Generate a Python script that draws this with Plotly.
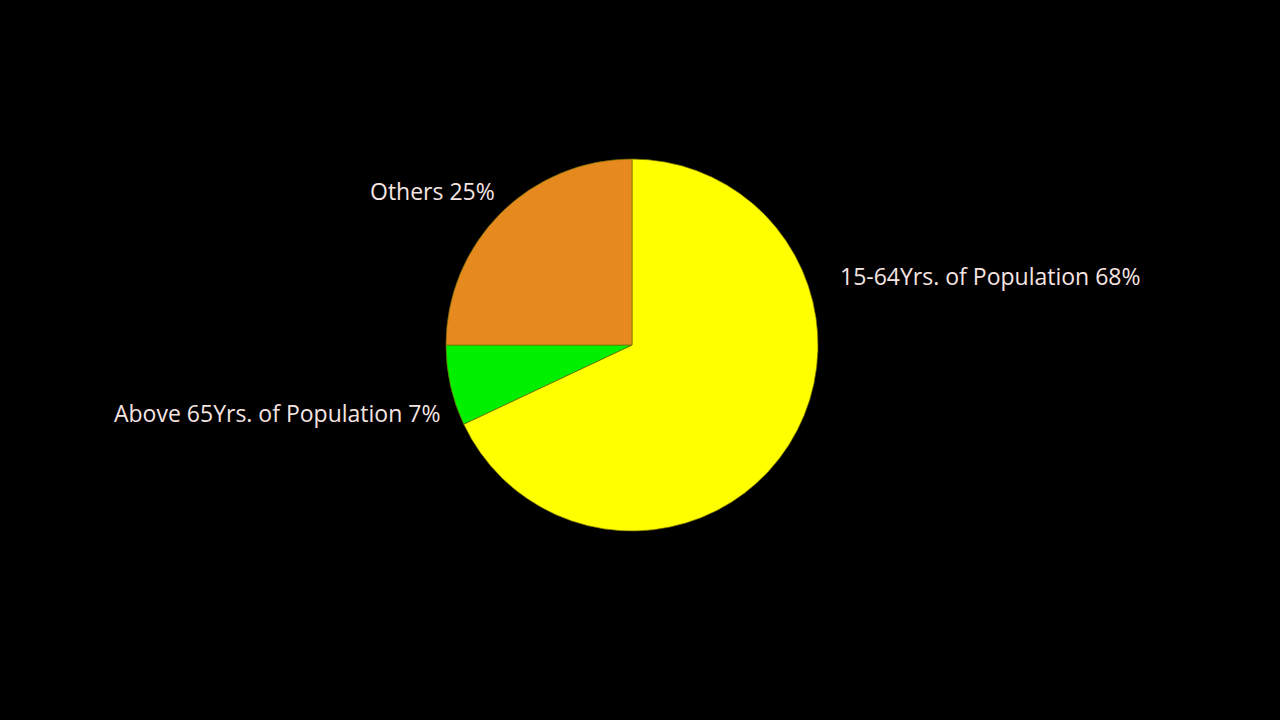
import plotly.graph_objects as go

labels = ["15-64Yrs. of Population", "Above 65Yrs. of Population", "Others"]
values = [68, 7, 25]
colors = ["#FFFF00", "#00F000", "#E68A1F"]

W, H = 1280, 720
cx, cy, r = 632, 345, 186

fig = go.Figure(go.Pie(
    labels=labels, values=values, sort=False, direction="clockwise", rotation=0,
    marker=dict(colors=colors, line=dict(color="rgba(120,110,0,0.7)", width=1)),
    textinfo="none", hoverinfo="label+percent", showlegend=False,
    domain=dict(x=[(cx - r) / W, (cx + r) / W], y=[(H - cy - r) / H, (H - cy + r) / H]),
))

label_pos = [(838, 276, "left"), (442, 413, "right"), (497, 191, "right")]
txtcolor = "#F6E4E2"
for (lab, val), (x, y, anc) in zip(zip(labels, values), label_pos):
    fig.add_annotation(
        text=f"{lab} {val}%", x=x / W, y=1 - y / H, xref="paper", yref="paper",
        xanchor=anc, yanchor="middle", showarrow=False,
        font=dict(family="Open Sans", size=23, color=txtcolor),
    )

fig.update_layout(
    width=W, height=H, margin=dict(l=0, r=0, t=0, b=0),
    paper_bgcolor="#000000", plot_bgcolor="#000000",
)
fig.write_html(
    "out.html",
    config={"displayModeBar": False},
    post_script="document.body.style.margin='0';document.body.style.background='#000';",
)
